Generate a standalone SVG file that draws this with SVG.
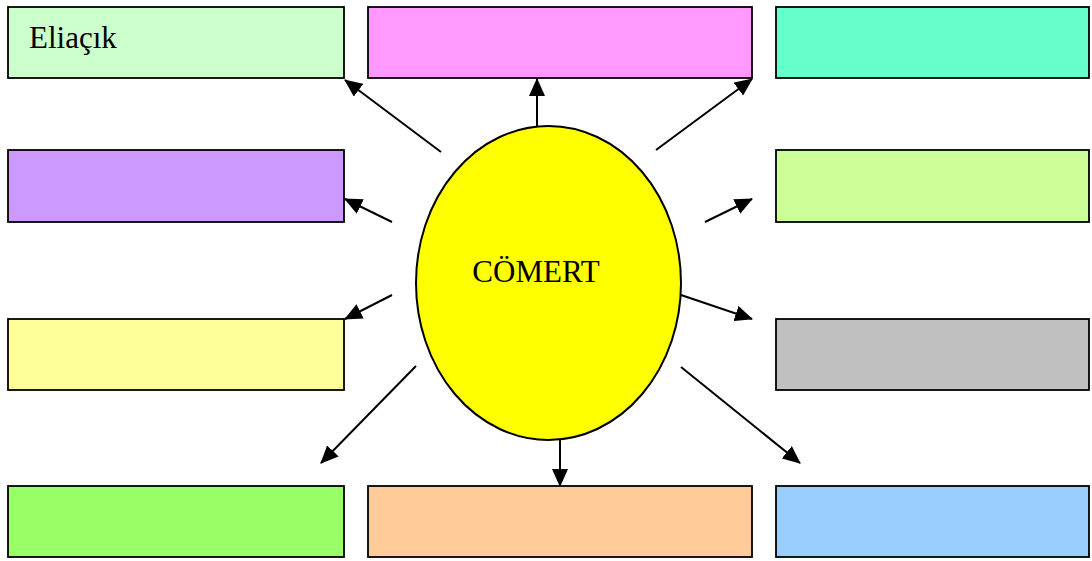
<svg xmlns="http://www.w3.org/2000/svg" width="1092" height="561" viewBox="0 0 1092 561">
<style>
.box{stroke:#000;stroke-width:1.8}
.lbl{font-family:"Liberation Serif",serif;font-size:31px;fill:#000}
.arr{stroke:#000;stroke-width:2;fill:none;marker-end:url(#ah)}
</style>
<defs>
<marker id="ah" markerUnits="userSpaceOnUse" markerWidth="18" markerHeight="16" viewBox="0 0 18 16" refX="17" refY="8" orient="auto">
<path d="M0,0 L18,8 L0,16 Z" fill="#000"/>
</marker>
</defs>
<rect width="1092" height="561" fill="#fff"/>
<g id="n1"><rect class="box" x="8" y="7" width="336" height="71" fill="#ccffcc"/><text class="lbl" x="29" y="48">Eliaçık</text></g>
<g id="n2"><rect class="box" x="368" y="7" width="384" height="71" fill="#ff99ff"/></g>
<g id="n3"><rect class="box" x="776" y="7" width="313" height="71" fill="#66ffcc"/></g>
<g id="n4"><rect class="box" x="8" y="150" width="336" height="72" fill="#cc99ff"/></g>
<g id="n5"><rect class="box" x="776" y="150" width="313" height="72" fill="#ccff99"/></g>
<g id="n6"><rect class="box" x="8" y="319" width="336" height="71" fill="#ffff99"/></g>
<g id="n7"><rect class="box" x="776" y="319" width="313" height="71" fill="#c0c0c0"/></g>
<g id="n8"><rect class="box" x="8" y="486" width="336" height="71" fill="#99ff66"/></g>
<g id="n9"><rect class="box" x="368" y="486" width="384" height="71" fill="#ffcc99"/></g>
<g id="n10"><rect class="box" x="776" y="486" width="313" height="71" fill="#99ccff"/></g>
<g id="center"><ellipse cx="548.5" cy="283" rx="132.5" ry="157" fill="#ffff00" stroke="#000" stroke-width="2"/><text class="lbl" x="536" y="282" text-anchor="middle">CÖMERT</text></g>
<g id="connectors">
<line class="arr" x1="441" y1="152" x2="345" y2="80"/>
<line class="arr" x1="537" y1="127" x2="537" y2="79"/>
<line class="arr" x1="656" y1="150" x2="752" y2="79"/>
<line class="arr" x1="392" y1="222" x2="345" y2="199"/>
<line class="arr" x1="705" y1="222" x2="752" y2="199"/>
<line class="arr" x1="392" y1="295" x2="345" y2="319"/>
<line class="arr" x1="681" y1="295" x2="752" y2="319"/>
<line class="arr" x1="416" y1="366" x2="321" y2="463"/>
<line class="arr" x1="681" y1="367" x2="800" y2="463"/>
<line class="arr" x1="560" y1="440" x2="560" y2="486"/>
</g>
</svg>
